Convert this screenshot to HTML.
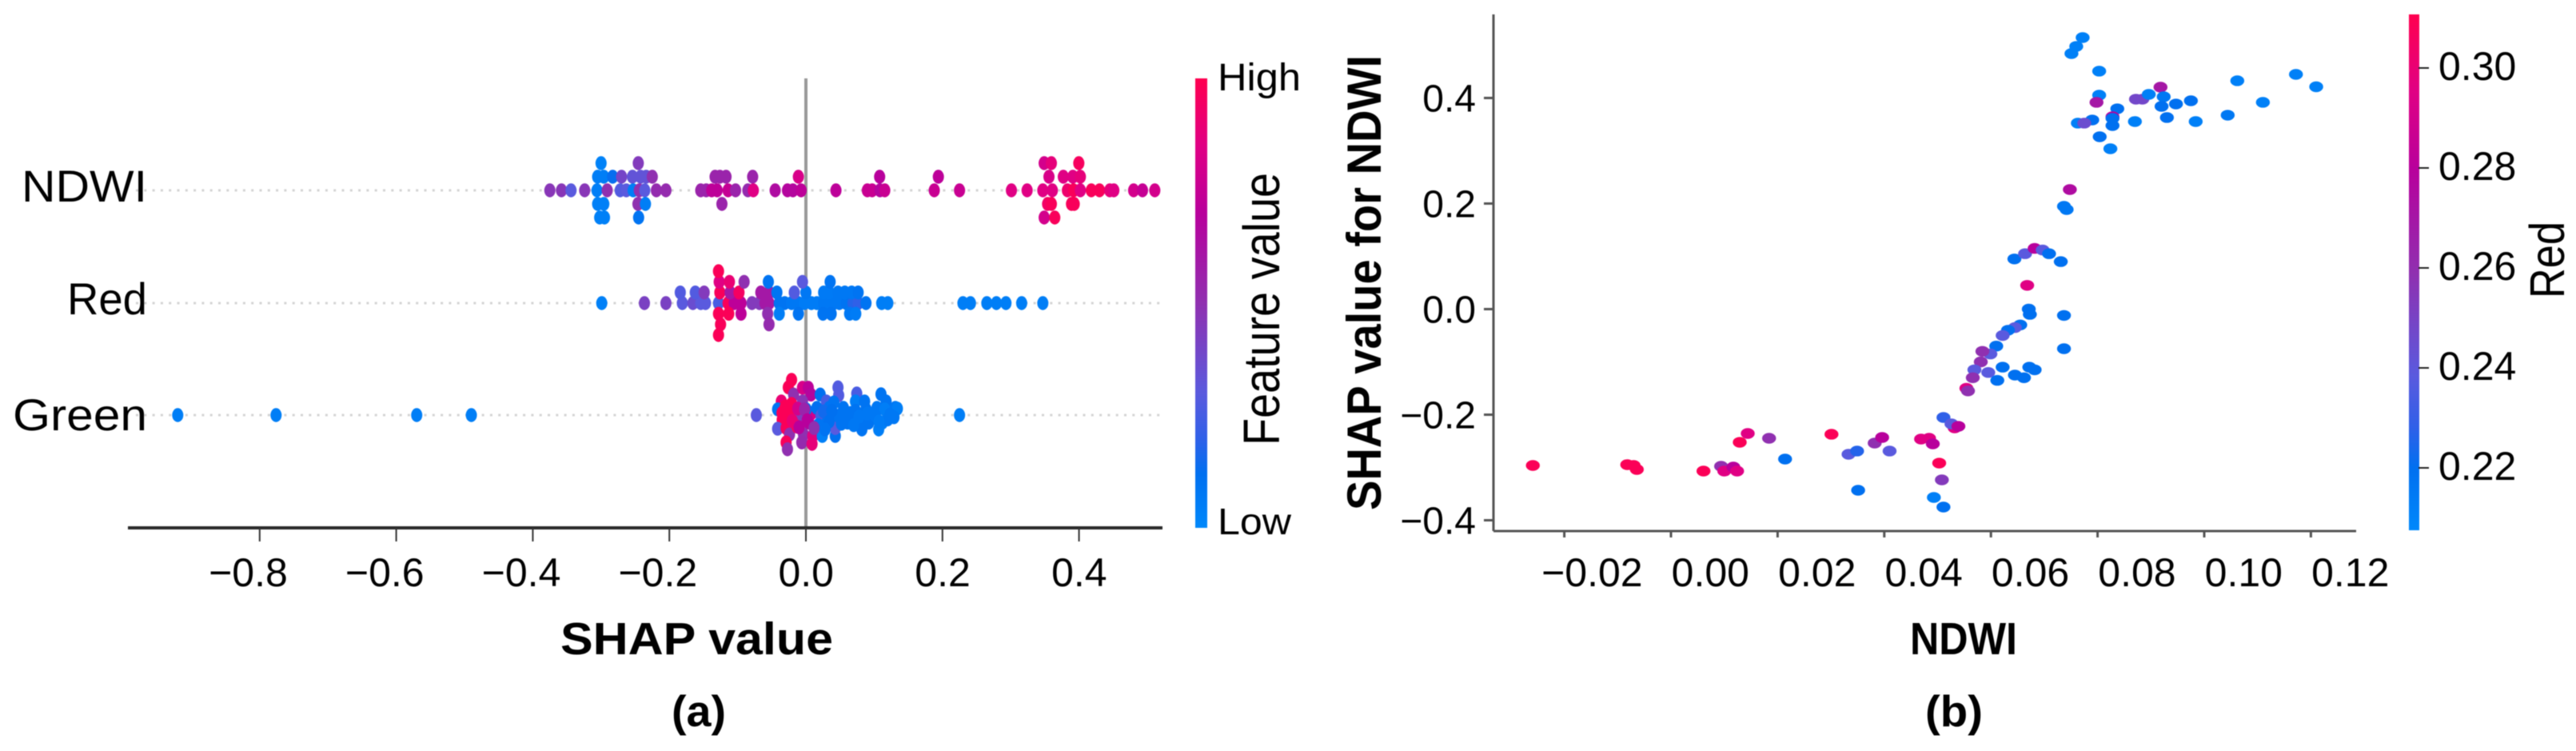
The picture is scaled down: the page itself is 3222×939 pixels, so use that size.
<!DOCTYPE html>
<html lang="en">
<head>
<meta charset="utf-8">
<title>SHAP summary and dependence plots</title>
<style>
html,body{margin:0;padding:0;background:#fff;width:3222px;height:939px;overflow:hidden}
svg{display:block;font-family:"Liberation Sans",sans-serif;filter:blur(0.6px)}
</style>
</head>
<body>
<svg id="fig" xmlns="http://www.w3.org/2000/svg" width="3222" height="939" viewBox="0 0 3222 939">
  <defs>
    <linearGradient id="shapGrad" x1="0" y1="1" x2="0" y2="0">
      <stop offset="0" stop-color="#0088fb"/>
      <stop offset="0.12" stop-color="#0070f0"/>
      <stop offset="0.2" stop-color="#3060e8"/>
      <stop offset="0.3" stop-color="#5a5ade"/>
      <stop offset="0.5" stop-color="#9030b0"/>
      <stop offset="0.7" stop-color="#b8009c"/>
      <stop offset="0.85" stop-color="#e00084"/>
      <stop offset="1" stop-color="#ff0050"/>
    </linearGradient>
  </defs>
  <rect width="3222" height="939" fill="#fff"/>

  <g id="panelA">
    <g id="rowLines"></g>
    <line x1="1008" y1="98" x2="1008" y2="660" stroke="#999" stroke-width="4"/>
    <g id="swarms"></g>
    <line x1="160" y1="660" x2="1454" y2="660" stroke="#2a2a2a" stroke-width="4"/>
    <g id="axisA"></g>
    <text x="701" y="818" font-size="57" font-weight="700" textLength="341" lengthAdjust="spacingAndGlyphs">SHAP value</text>
    <text x="840" y="908" font-size="55" font-weight="700" textLength="68" lengthAdjust="spacingAndGlyphs">(a)</text>
    <rect x="1495" y="98" width="15" height="562" fill="url(#shapGrad)"/>
    <text x="1523" y="113" font-size="48" textLength="104" lengthAdjust="spacingAndGlyphs">High</text>
    <text x="1523" y="668" font-size="46" textLength="92" lengthAdjust="spacingAndGlyphs">Low</text>
    <text transform="translate(1600,557) rotate(-90)" font-size="64" textLength="341" lengthAdjust="spacingAndGlyphs">Feature value</text>
  </g>

  <g id="panelB">
    <line x1="1868" y1="18" x2="1868" y2="664" stroke="#555" stroke-width="3"/>
    <line x1="1868" y1="664" x2="2947" y2="664" stroke="#555" stroke-width="3"/>
    <g id="axisB"></g>
    <g id="depPoints"></g>
    <text transform="translate(1727,638) rotate(-90)" font-size="60" font-weight="700" textLength="569" lengthAdjust="spacingAndGlyphs">SHAP value for NDWI</text>
    <text x="2389" y="818" font-size="57" font-weight="700" textLength="134" lengthAdjust="spacingAndGlyphs">NDWI</text>
    <text x="2408" y="908" font-size="55" font-weight="700" textLength="72" lengthAdjust="spacingAndGlyphs">(b)</text>
    <rect x="3013" y="18" width="13" height="645" fill="url(#shapGrad)"/>
    <g id="cbarB"></g>
    <text transform="translate(3207,373) rotate(-90)" font-size="61" textLength="96" lengthAdjust="spacingAndGlyphs">Red</text>
  </g>
</svg>

<script>
/* ---------- Panel (a) data ---------- */
const featureNames = ["NDWI", "Red", "Green"];
const xTicksA = [-0.8, -0.6, -0.4, -0.2, 0, 0.2, 0.4];
const xTickLabelsA = ["\u22120.8", "\u22120.6", "\u22120.4", "\u22120.2", "0.0", "0.2", "0.4"];

const ndwiShap = [
 -0.300,-0.2455,0.349,0.3595,0.3997,
 -0.305,-0.296,-0.283,-0.270,-0.254,-0.242,-0.234,-0.225,-0.133,-0.126,-0.117,-0.078,-0.011,0.108,0.194,0.356,0.377,0.391,0.402,
 -0.375,-0.358,-0.344,-0.324,-0.306,-0.291,-0.272,-0.263,-0.253,-0.244,-0.236,-0.219,-0.205,-0.154,-0.146,-0.138,-0.130,-0.114,-0.103,-0.085,-0.077,-0.045,-0.027,-0.019,-0.007,0.044,0.090,0.097,0.1085,0.1155,0.188,0.225,0.301,0.324,0.347,0.361,0.383,0.392,0.402,0.418,0.430,0.445,0.451,0.480,0.493,0.511,
 -0.305,-0.296,-0.246,-0.235,-0.123,0.354,0.3595,0.389,0.393,
 -0.302,-0.295,-0.245,0.349,0.3645];
const ndwiSwarm = [
 2,2,2,2,2,
 1,1,1,1,1,1,1,1,1,1,1,1,1,1,1,1,1,1,1,
 0,0,0,0,0,0,0,0,0,0,0,0,0,0,0,0,0,0,0,0,0,0,0,0,0,0,0,0,0,0,0,0,0,0,0,0,0,0,0,0,0,0,0,0,0,0,
 -1,-1,-1,-1,-1,-1,-1,-1,-1,
 -2,-2,-2,-2,-2];
const ndwiFeature = [
 0.03,0.45,0.8,0.88,0.96,
 0.05,0.05,0.13,0.4,0.33,0.33,0.33,0.5,0.55,0.55,0.55,0.55,0.82,0.7,0.72,0.82,0.85,0.85,0.88,
 0.47,0.47,0.3,0.47,0.05,0.5,0.28,0.3,0.05,0.5,0.3,0.52,0.52,0.55,0.55,0.72,0.72,0.75,0.55,0.52,0.85,0.65,0.68,0.68,0.72,0.72,0.76,0.76,0.68,0.76,0.76,0.76,0.85,0.85,0.85,0.85,0.92,0.97,0.85,0.97,0.97,0.88,0.85,0.8,0.75,0.8,
 0.04,0.04,0.5,0.05,0.55,0.94,0.97,0.97,0.97,
 0.04,0.04,0.1,0.8,0.97];

const redShap = [
 -0.299,-0.2365,-0.205,-0.181,-0.1655,-0.154,-0.147,-0.128,-0.114,-0.105,-0.095,-0.079,-0.068,-0.060,-0.054,-0.039,-0.031,-0.021,-0.011,-0.002,0.008,0.016,0.026,0.034,0.041,0.049,0.059,0.069,0.0765,0.088,0.111,0.120,0.23,0.241,0.265,0.279,0.293,0.316,0.347,
 -0.184,-0.162,-0.149,-0.126,-0.111,-0.098,-0.066,-0.054,-0.0425,-0.017,0.000,0.026,0.034,0.047,0.057,0.067,0.0765,
 -0.127,-0.112,-0.0905,-0.055,-0.005,0.0355,
 -0.128,
 -0.128,-0.113,-0.095,-0.056,-0.039,-0.011,0.025,0.037,0.064,0.073,
 -0.125,-0.054,
 -0.128];
const redSwarm = [
 0,0,0,0,0,0,0,0,0,0,0,0,0,0,0,0,0,0,0,0,0,0,0,0,0,0,0,0,0,0,0,0,0,0,0,0,0,0,0,
 1,1,1,1,1,1,1,1,1,1,1,1,1,1,1,1,1,
 2,2,2,2,2,2,
 3,
 -1,-1,-1,-1,-1,-1,-1,-1,-1,-1,
 -2,-2,
 -3];
const redFeature = [
 0.04,0.42,0.42,0.3,0.36,0.3,0.3,0.26,0.97,0.72,0.72,0.45,0.45,0.6,0.6,0.1,0.1,0.08,0.08,0.06,0.06,0.06,0.08,0.08,0.08,0.08,0.1,0.18,0.2,0.1,0.05,0.05,0.05,0.05,0.05,0.05,0.05,0.05,0.05,
 0.28,0.28,0.45,0.97,0.6,0.95,0.6,0.6,0.1,0.28,0.08,0.07,0.07,0.08,0.08,0.08,0.1,
 0.85,0.9,0.5,0.1,0.3,0.1,
 0.98,
 0.98,0.98,0.72,0.5,0.05,0.1,0.1,0.1,0.08,0.06,
 0.97,0.52,
 0.98];

const greenShap = [
 -0.92,-0.776,-0.57,-0.49,-0.0726,0.225,
 -0.021,-0.0258,-0.036,-0.0414,-0.031,-0.0347,-0.019,-0.023,-0.0414,-0.029,-0.024,-0.029,-0.027,-0.025,-0.018,-0.005,0.0035,0.0074,-0.021,-0.005,-0.009,-0.013,0.0043,-0.0035,-0.006,0.010,0.009,0.008,0.0004,
 0.021,0.030,0.016,0.022,0.030,0.018,0.024,0.043,0.043,0.047,0.048,0.041,0.034,0.055,0.047,0.061,0.053,0.0745,0.0726,0.086,0.0726,0.088,0.082,0.096,0.082,0.082,0.092,0.110,0.1175,0.104,0.1155,0.131,0.134,0.123,0.129,0.112,0.1066,0.102,
 -0.03,-0.035,-0.028,-0.02,-0.012,-0.01,-0.002,0.002,0.012,0.026,0.034,0.028,0.038,0.052,0.066,0.078,0.09,0.07,0.1,0.12,0.107];
const greenSwarm = [
 0,0,0,0,0,0,
 4.9,3.85,1.9,0.8,0.8,-0.65,-1.05,-0.1,-1.9,-1.8,-2.7,-3.8,-4.75,-0.3,2.85,3.8,3.8,2.85,1.55,1.9,0.05,-1.6,-1.05,-2.7,-3.8,-2.9,-4,0.25,0.8,
 2.85,1.9,1,-0.1,-1.2,-1.4,-2.9,-2.9,-1.8,3.85,2.75,1.75,1,1,-0.1,-1.05,-0.65,3,1.9,1.9,0.6,0.8,-0.3,-0.1,-1.05,-2,-1.05,2.9,1.9,1,0.8,1,0.9,0.05,-0.3,-1.05,-2,-0.1,
 1.2,0.3,-0.4,-0.8,0.9,-1.7,0.8,-0.7,-1.8,0.5,-0.9,-2,0.6,-1.2,0.3,-0.2,0.2,-1.4,0.3,-0.6,-0.9];
const greenFeature = [
 0.05,0.05,0.05,0.05,0.3,0.05,
 0.98,0.98,0.9,0.1,0.42,0.98,0.98,0.98,0.3,0.97,0.5,0.97,0.5,0.97,0.5,0.82,0.72,0.68,0.98,0.48,0.45,0.97,0.68,0.5,0.52,0.85,0.88,0.8,0.12,
 0.12,0.25,0.12,0.25,0.1,0.1,0.04,0.12,0.3,0.28,0.28,0.1,0.1,0.1,0.1,0.1,0.1,0.26,0.05,0.1,0.1,0.1,0.1,0.08,0.1,0.1,0.1,0.1,0.1,0.08,0.05,0.08,0.05,0.08,0.08,0.05,0.05,0.08,
 0.98,0.98,0.98,0.9,0.8,0.7,0.55,0.7,0.5,0.15,0.12,0.1,0.12,0.1,0.1,0.08,0.08,0.08,0.08,0.08,0.06];

/* ---------- Panel (b) data ---------- */
const xTicksB = [-0.02, 0, 0.02, 0.04, 0.06, 0.08, 0.10, 0.12];
const xTickLabelsB = ["\u22120.02", "0.00", "0.02", "0.04", "0.06", "0.08", "0.10", "0.12"];
const yTicksB = [-0.4, -0.2, 0, 0.2, 0.4];
const yTickLabelsB = ["\u22120.4", "\u22120.2", "0.0", "0.2", "0.4"];
const colorTicksB = [0.22, 0.24, 0.26, 0.28, 0.30];
const colorTickLabelsB = ["0.22", "0.24", "0.26", "0.28", "0.30"];

const depNdwi = [
 -0.0259,-0.0082,-0.0070,-0.0064,0.0061,0.0094,0.0100,0.0117,0.0124,0.0129,0.0144,0.0184,0.0214,0.0301,0.0333,0.0349,0.0382,0.0396,0.0410,0.0351,
 0.0469,0.0484,0.0491,0.0503,0.0508,0.0493,0.0511,0.0511,0.0532,0.0526,0.0539,
 0.0644,0.0664,0.0682,0.0697,0.0709,0.0731,0.0668,0.0655,0.0645,0.0671,0.0673,0.0632,0.0622,0.0610,0.0599,0.0584,0.0581,0.0569,0.0566,0.0595,0.0622,0.0645,0.0662,0.0672,0.0612,0.0682,0.0554,0.0557,0.0737,0.0737,
 0.0772,0.0760,0.0751,0.0803,0.0803,0.0798,0.0837,0.0828,0.0828,0.0828,0.0790,0.0763,0.0775,0.0804,0.0824,0.0870,0.0884,0.0872,0.0896,0.0918,0.0924,0.0920,0.0947,0.0975,0.0930,0.0984,0.1044,0.1062,0.1110,0.1172,0.1210,0.0748,0.0737,0.0742];
const depShap = [
 -0.2962,-0.2947,-0.2962,-0.3038,-0.3068,-0.2977,-0.3068,-0.2992,-0.3068,-0.2523,-0.2356,-0.2447,-0.2841,-0.2371,-0.2750,-0.2689,-0.2538,-0.2432,-0.2689,-0.3432,
 -0.2462,-0.2447,-0.2553,-0.2917,-0.3235,-0.3568,-0.3750,-0.2053,-0.2250,-0.2174,-0.2220,
 0.095,0.105,0.115,0.112,0.105,0.09,0.045,-0.03,-0.035,0.0,-0.01,-0.04,-0.05,-0.07,-0.085,-0.08,-0.10,-0.115,-0.13,-0.12,-0.11,-0.125,-0.13,-0.11,-0.135,-0.115,-0.15,-0.155,-0.012,-0.075,
 0.5144,0.4977,0.4841,0.4508,0.4053,0.3917,0.3795,0.3644,0.3614,0.3477,0.3583,0.3523,0.3523,0.3265,0.3038,0.3553,0.3977,0.3977,0.4068,0.4205,0.4023,0.3841,0.3886,0.3947,0.3629,0.3553,0.3674,0.4326,0.3917,0.4447,0.4212,0.2265,0.1947,0.1886];
const depRed = [
 0.3086,0.3086,0.3086,0.3086,0.3086,0.2591,0.2952,0.2797,0.2952,0.3086,0.2952,0.2591,0.2199,0.3086,0.2385,0.2260,0.2591,0.2797,0.2385,0.2199,
 0.2952,0.2952,0.2797,0.3086,0.2540,0.2116,0.2199,0.2280,0.2952,0.2385,0.2797,
 0.2199,0.2385,0.2797,0.2385,0.2199,0.2199,0.2952,0.2199,0.2385,0.2199,0.2199,0.2199,0.2385,0.2199,0.2385,0.2591,0.2591,0.2385,0.2591,0.2385,0.2199,0.2199,0.2199,0.2199,0.2199,0.2199,0.2952,0.2591,0.2199,0.2199,
 0.2116,0.2116,0.2116,0.2116,0.2116,0.2700,0.2199,0.2797,0.2199,0.2199,0.2199,0.2116,0.2450,0.2199,0.2116,0.2116,0.2480,0.2480,0.2116,0.2700,0.2160,0.2199,0.2199,0.2199,0.2199,0.2116,0.2160,0.2116,0.2116,0.2116,0.2116,0.2750,0.2160,0.2160];

/* ---------- Scales ---------- */
const xA = v => 1008 + v * 854;
const rowY = [238, 379, 519];
const rowStep = [17, 13.3, 9];
const labelDrop = [14, 14, 19];
const xB = v => 2090 + v / 0.02 * 133.4;
const yB = v => 386.5 - v * 660;
const yCbar = v => 585 - (v - 0.22) / 0.02 * 125;
const redNorm = v => (v - 0.2075) / 0.1032;

const stops = [[0,[0,136,251]],[0.12,[0,112,240]],[0.2,[48,96,232]],[0.3,[90,90,222]],[0.5,[144,48,176]],[0.7,[184,0,156]],[0.85,[224,0,132]],[1,[255,0,80]]];
function shapColor(t){
  t = Math.max(0, Math.min(1, t));
  for (let i = 1; i < stops.length; i++) {
    if (t <= stops[i][0]) {
      const a = stops[i-1], b = stops[i], f = (t - a[0]) / (b[0] - a[0]);
      return "rgb(" + a[1].map((c, k) => Math.round(c + (b[1][k] - c) * f)).join(",") + ")";
    }
  }
  return "rgb(255,0,80)";
}
const NS = "http://www.w3.org/2000/svg";
function make(tag, parent, props, txt){
  const el = document.createElementNS(NS, tag);
  for (const k in props) el.setAttribute(k, props[k]);
  if (txt !== undefined) el.textContent = txt;
  parent.appendChild(el);
  return el;
}

/* ---------- Draw panel (a) ---------- */
const rowLines = document.getElementById("rowLines");
const swarms = document.getElementById("swarms");
const seriesShap = [ndwiShap, redShap, greenShap];
const seriesSwarm = [ndwiSwarm, redSwarm, greenSwarm];
const seriesFeature = [ndwiFeature, redFeature, greenFeature];

featureNames.forEach((name, r) => {
  const guide = make("line", rowLines, {x1:170, x2:1454, y1:rowY[r], y2:rowY[r], stroke:"#d4d4d4", "stroke-width":3, "stroke-dasharray":"3 7.3"});
  
  
  const label = make("text", rowLines, {x:184, y:rowY[r] + labelDrop[r], "font-size":56, "text-anchor":"end", textLength:name === "NDWI" ? 157 : (name === "Red" ? 100 : 168), lengthAdjust:"spacingAndGlyphs"}, name);
  
  
  seriesShap[r].forEach((v, i) => {
    const dot = make("ellipse", swarms, {cx:xA(v), cy:rowY[r] - seriesSwarm[r][i] * rowStep[r], rx:7, ry:8.7, fill:shapColor(seriesFeature[r][i])});
    
    
  });
});

const axisA = document.getElementById("axisA");
xTicksA.forEach((v, i) => {
  const tick = make("line", axisA, {x1:xA(v), x2:xA(v), y1:660, y2:677, stroke:"#333", "stroke-width":2});
  
  
  const lab = make("text", axisA, {x:xA(v) + 35, y:733, "font-size":50, "text-anchor":"end"}, xTickLabelsA[i]);
  
  
});

/* ---------- Draw panel (b) ---------- */
const axisB = document.getElementById("axisB");
xTicksB.forEach((v, i) => {
  const tick = make("line", axisB, {x1:xB(v), x2:xB(v), y1:664, y2:672, stroke:"#555", "stroke-width":3});
  
  
  const lab = make("text", axisB, {x:xB(v) + 98, y:733, "font-size":50, "text-anchor":"end"}, xTickLabelsB[i]);
  
  
});
yTicksB.forEach((v, i) => {
  const tick = make("line", axisB, {x1:1856, x2:1868, y1:yB(v), y2:yB(v), stroke:"#555", "stroke-width":3});
  
  
  const lab = make("text", axisB, {x:1846, y:yB(v) + 17, "font-size":48, "text-anchor":"end"}, yTickLabelsB[i]);
  
  
});

const depPoints = document.getElementById("depPoints");
depNdwi.forEach((v, i) => {
  const dot = make("ellipse", depPoints, {cx:xB(v), cy:yB(depShap[i]), rx:8.7, ry:6.7, fill:shapColor(redNorm(depRed[i]))});
  
  
});

const cbarB = document.getElementById("cbarB");
colorTicksB.forEach((v, i) => {
  const tick = make("line", cbarB, {x1:3025, x2:3038, y1:yCbar(v), y2:yCbar(v), stroke:"#222", "stroke-width":2});
  
  
  const lab = make("text", cbarB, {x:3050, y:yCbar(v) + 15, "font-size":50}, colorTickLabelsB[i]);
  
  
});
</script>
</body>
</html>
